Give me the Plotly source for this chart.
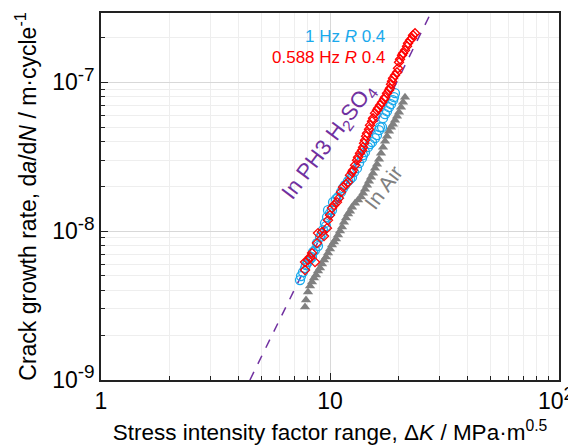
import plotly.graph_objects as go

# ---------------- data ----------------
air_dk = [7.778, 7.856, 8.015, 8.179, 8.345, 8.514, 8.687, 8.864, 9.043, 9.228,
          9.415, 9.605, 9.802, 10.0, 10.20, 10.41, 10.62, 10.84, 11.06, 11.28,
          11.51, 11.75, 11.99, 12.23, 12.48, 12.86, 13.26, 13.66, 13.94, 14.22,
          14.51, 14.80, 15.10, 15.41, 15.72, 16.04, 16.37, 16.70, 17.04, 17.39,
          17.74, 18.10, 18.47, 18.84, 19.22, 19.62, 20.01, 20.42, 20.84, 21.26]
air_rate = [3.09e-9, 3.443e-9, 3.896e-9, 4.274e-9, 4.548e-9, 4.836e-9, 5.067e-9, 5.389e-9, 5.645e-9, 6.004e-9,
            6.389e-9, 6.692e-9, 7.117e-9, 7.571e-9, 8.054e-9, 8.437e-9, 8.838e-9, 9.401e-9, 1.0e-8, 1.064e-8,
            1.149e-8, 1.223e-8, 1.301e-8, 1.362e-8, 1.449e-8, 1.541e-8, 1.615e-8, 1.692e-8, 1.799e-8, 1.914e-8,
            2.036e-8, 2.166e-8, 2.304e-8, 2.450e-8, 2.648e-8, 2.817e-8, 3.043e-8, 3.338e-8, 3.662e-8, 4.018e-8,
            4.341e-8, 4.690e-8, 4.989e-8, 5.226e-8, 5.559e-8, 5.913e-8, 6.289e-8, 6.796e-8, 7.340e-8, 7.932e-8]

hz1_dk = [7.396, 7.470, 7.621, 7.778, 7.856, 8.015, 8.179, 8.345, 8.430, 8.600,
          8.775, 8.864, 9.043, 9.228, 9.320, 9.511, 9.605, 9.703, 9.802, 10.0,
          10.20, 10.31, 10.62, 10.84, 11.17, 11.40, 11.63, 11.99, 12.23, 12.48,
          12.73, 13.12, 13.39, 13.80, 13.94, 14.22, 14.65, 14.95, 15.26, 15.72,
          16.04, 16.37, 16.53, 16.87, 17.04, 17.39, 17.74, 18.10, 18.47, 18.84,
          19.03, 19.22]
hz1_rate = [4.690e-9, 4.989e-9, 5.306e-9, 5.645e-9, 5.913e-9, 6.193e-9, 6.489e-9, 6.692e-9, 7.230e-9, 7.456e-9,
            8.307e-9, 7.932e-9, 9.116e-9, 9.548e-9, 1.016e-8, 1.131e-8, 1.080e-8, 1.242e-8, 1.383e-8, 1.321e-8,
            1.383e-8, 1.565e-8, 1.640e-8, 1.692e-8, 1.827e-8, 1.944e-8, 2.036e-8, 2.166e-8, 2.234e-8, 2.304e-8,
            2.489e-8, 2.648e-8, 2.860e-8, 3.090e-8, 3.236e-8, 3.390e-8, 3.662e-8, 3.836e-8, 3.956e-8, 4.209e-8,
            4.410e-8, 4.764e-8, 4.989e-8, 4.989e-8, 5.732e-8, 6.099e-8, 6.389e-8, 6.796e-8, 7.117e-8, 7.571e-8,
            7.932e-8, 8.437e-8]

hz0588_dk = [7.778, 7.778, 8.015, 8.600, 8.345, 8.179, 8.775, 8.864, 9.228, 9.415,
             9.703, 9.802, 10.0, 10.20, 10.41, 10.73, 10.95, 11.17, 11.40, 11.75,
             11.99, 12.23, 12.48, 12.60, 12.86, 13.12, 13.26, 13.52, 13.80, 13.94,
             14.08, 14.22, 14.37, 14.51, 14.80, 14.95, 15.26, 15.41, 15.72, 16.04,
             16.21, 16.53, 16.87, 17.21, 17.39, 17.74, 18.10, 18.28, 18.47, 18.65,
             18.84, 19.22, 19.62, 19.81, 20.01, 20.22, 20.63, 20.84, 21.26, 21.69,
             21.91, 22.36, 22.81, 23.04, 23.51]
hz0588_rate = [5.473e-9, 6.193e-9, 6.389e-9, 6.193e-9, 7.117e-9, 6.692e-9, 8.307e-9, 9.696e-9, 9.847e-9, 9.257e-9,
               1.047e-8, 1.185e-8, 1.281e-8, 1.427e-8, 1.495e-8, 1.565e-8, 1.665e-8, 1.827e-8, 1.974e-8, 2.067e-8,
               2.133e-8, 2.376e-8, 2.489e-8, 2.567e-8, 2.773e-8, 2.996e-8, 3.137e-8, 3.338e-8, 3.496e-8, 3.662e-8,
               3.896e-8, 4.081e-8, 4.341e-8, 4.547e-8, 4.837e-8, 5.145e-8, 5.473e-8, 5.732e-8, 6.193e-8, 6.487e-8,
               6.691e-8, 7.006e-8, 7.340e-8, 7.690e-8, 7.932e-8, 8.437e-8, 8.838e-8, 9.115e-8, 9.696e-8, 1.016e-7,
               1.064e-7, 1.114e-7, 1.167e-7, 1.242e-7, 1.362e-7, 1.427e-7, 1.518e-7, 1.565e-7, 1.640e-7, 1.744e-7,
               1.827e-7, 1.914e-7, 1.974e-7, 2.067e-7, 2.133e-7]

fit_dk = [4.47, 27.8]
fit_rate = [1.0e-9, 3.0e-7]

x_tickvals = [1, 10, 100]
x_ticktext = ["1", "10", "10<sup><span style='font-size:18px'>2</span></sup>&nbsp;"]
y_tickvals = [1e-9, 1e-8, 1e-7]
y_ticktext = ["10<sup><span style='font-size:19px'>-9</span></sup>",
              "10<sup><span style='font-size:19px'>-8</span></sup>",
              "10<sup><span style='font-size:19px'>-7</span></sup>"]

BLUE = "#1AA9EC"
RED = "#FF0000"
GRAY = "#808080"
PURPLE = "#7030A0"
FONT = "Liberation Sans, Arial, sans-serif"

fig = go.Figure()
fig.add_trace(go.Scatter(x=fit_dk, y=fit_rate, mode="lines",
                         line=dict(color=PURPLE, width=1.5, dash="dash"), showlegend=False))
fig.add_trace(go.Scatter(x=air_dk, y=air_rate, mode="markers",
                         marker=dict(symbol="triangle-up", size=9, color=GRAY, line=dict(width=0)),
                         showlegend=False))
fig.add_trace(go.Scatter(x=hz1_dk, y=hz1_rate, mode="markers",
                         marker=dict(symbol="circle-open", size=9, color=BLUE, line=dict(width=1.3)),
                         showlegend=False))
fig.add_trace(go.Scatter(x=hz0588_dk, y=hz0588_rate, mode="markers",
                         marker=dict(symbol="diamond-open", size=7, color=RED, line=dict(width=1.3)),
                         showlegend=False))

minor_x = [m * d for d in (1, 10) for m in range(2, 10)]
minor_y = [m * d for d in (1e-9, 1e-8, 1e-7) for m in range(2, 10)]

axis_common = dict(showline=True, linecolor="#222222", linewidth=1.5, mirror=True,
                   ticks="inside", ticklen=7, tickcolor="#222222", automargin=False,
                   showgrid=True, gridcolor="#D8D8D8", gridwidth=1, ticklabeloverflow="allow",
                   tickfont=dict(family=FONT, size=23, color="black"), zeroline=False)

fig.update_xaxes(type="log", range=[0, 2], tickmode="array", tickvals=x_tickvals, ticktext=x_ticktext,
                 minor=dict(tickmode="array", tickvals=minor_x, ticks="inside", ticklen=4,
                            tickcolor="#222222", showgrid=True, gridcolor="#EEEEEE"),
                 title=dict(text="Stress intensity factor range, Δ<i>K</i> / MPa·m<sup>0.5</sup>",
                            font=dict(family=FONT, size=22.5, color="black"), standoff=19),
                 **axis_common)
fig.update_yaxes(type="log", range=[-9, -6.535], tickmode="array", tickvals=y_tickvals, ticktext=y_ticktext,
                 minor=dict(tickmode="array", tickvals=minor_y, ticks="inside", ticklen=4,
                            tickcolor="#222222", showgrid=True, gridcolor="#EEEEEE"),
                 title=dict(text="Crack growth rate, d<i>a</i>/d<i>N</i> / m·cycle<sup>-1</sup>",
                            font=dict(family=FONT, size=23, color="black"), standoff=9),
                 **axis_common)

annotations = [
    dict(x=0.6245, y=0.937, xref="paper", yref="paper", xanchor="right", yanchor="middle",
         text="1 Hz <i>R</i> 0.4", showarrow=False, font=dict(family=FONT, size=17, color=BLUE)),
    dict(x=0.6245, y=0.880, xref="paper", yref="paper", xanchor="right", yanchor="middle",
         text="0.588 Hz <i>R</i> 0.4", showarrow=False, font=dict(family=FONT, size=17, color=RED)),
    dict(x=(329 - 101) / 458, y=(380 - 142) / 367, xref="paper", yref="paper",
         text="In PH3 H<sub>2</sub>SO<sub>4</sub>", textangle=-53, showarrow=False,
         font=dict(family=FONT, size=22, color=PURPLE)),
    dict(x=(383 - 101) / 458, y=(380 - 187) / 367, xref="paper", yref="paper",
         text="In Air", textangle=-53, showarrow=False,
         font=dict(family=FONT, size=21, color=GRAY)),
]

# page body adds an 8px offset, so the figure is 8px smaller and margins compensate
fig.update_layout(width=568, height=437, margin=dict(l=93, r=17, t=5, b=65),
                  plot_bgcolor="white", paper_bgcolor="white",
                  font=dict(family=FONT, color="black"), annotations=annotations, showlegend=False)

fig.write_html("out.html")
